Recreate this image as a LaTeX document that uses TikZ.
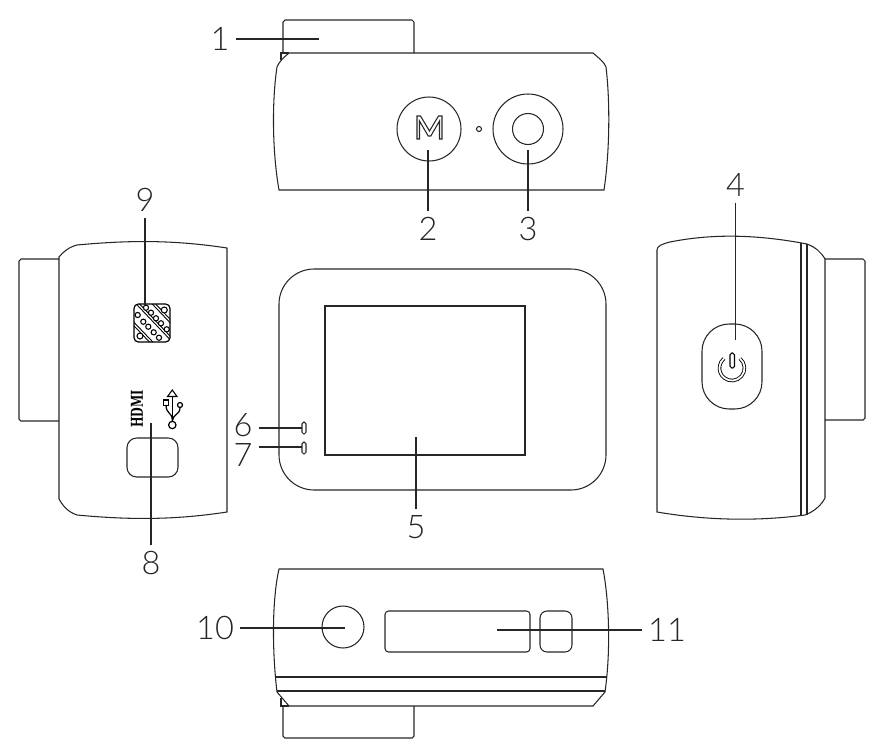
\documentclass[tikz,border=0pt]{standalone}
\usepackage{fontspec}
\setmainfont{Lato Light}
\newfontfamily\hdmifont{DejaVu Serif}[BoldFont=* Bold]
\tikzset{
    outline/.style={line width=0.6pt, draw=black!85},
    leader/.style={line width=0.6pt, draw=black!85},
    numlabel/.style={font=\fontsize{18.5}{18.5}\selectfont, text=black!85, inner sep=0pt, outer sep=3.5pt},
    grille/.style={line width=0.6pt, double, double distance=0.7pt, draw=black},
}

\begin{document}
\begin{tikzpicture}[x=0.02cm, y=0.02cm, yscale=-1]
    \useasboundingbox (0,0) rectangle (876,751);

    % Define the positions of the leader ends
    \coordinate (tip1) at (319,39);
    \coordinate (tip2) at (428,150);
    \coordinate (tip3) at (528,150);
    \coordinate (tip4) at (735.5,340);
    \coordinate (tip5) at (416,437);
    \coordinate (tip6) at (302,428);
    \coordinate (tip7) at (302,447);
    \coordinate (tip8) at (151,423);
    \coordinate (tip9) at (145,305);
    \coordinate (tip10) at (345,628);
    \coordinate (tip11) at (497,630);

    % Top view
    \draw[outline] (283,53) -- (283,22) -- (285,20) -- (412,20) -- (414,22) -- (414,53);
    \draw[outline] (281,60) -- (281,53) -- (289,53);
    \draw[outline] (289,53) -- (593,53) .. controls (600,59) and (604,62) .. (606,67)
        .. controls (610,100) and (610,150) .. (604,190) -- (279,190)
        .. controls (272,150) and (272,100) .. (277,67) .. controls (279,62) and (283,58) .. (289,53) -- cycle;
    \draw[outline] (429,129) circle (32);
    \draw[outline, line join=miter] (417,139) -- (417,116) -- (420.5,116) -- (429.5,131) -- (438.5,116) -- (442,116)
        -- (442,139) -- (439.5,139) -- (439.5,121) -- (430.8,136) -- (428.2,136) -- (419.5,121) -- (419.5,139) -- cycle;
    \draw[outline] (479,129) circle (2.5);
    \draw[outline] (528,129) circle (35);
    \draw[outline] (528,129) circle (15.5);

    % Left view
    \draw[outline] (59,259) -- (21,259) -- (19,261) -- (19,419) -- (21,421) -- (59,421);
    \draw[outline] (77,245) .. controls (130,240) and (175,240) .. (227,248) -- (227,512)
        .. controls (175,520) and (130,520) .. (77,515) .. controls (68,512) and (63,506) .. (59,499)
        -- (59,257) .. controls (63,252) and (69,247) .. (77,245) -- cycle;
    % Speaker grille
    \begin{scope}
        \clip[rounded corners=2.5pt] (134,304) rectangle (170,342);
        \draw[grille] (153,303) -- (172,323);
        \draw[grille] (136,302) -- (174,342);
        \draw[grille] (132,322) -- (154,345);
        \draw[line width=0.6pt, fill=white] (146,307.7) circle (2.6) (151,312.7) circle (2.6)
            (156,318.3) circle (2.6) (161,323.3) circle (2.6) (166.7,329.3) circle (2.6)
            (137.7,315) circle (2.6) (143.3,321.7) circle (2.6) (148.3,326.7) circle (2.6)
            (153.7,332.3) circle (2.6) (159,337.7) circle (2.6)
            (164.3,310) circle (3) (140,336) circle (3);
    \end{scope}
    \draw[line width=0.7pt, rounded corners=2.5pt] (134,304) rectangle (170,342);
    % Port and its marks
    \node[rotate=90, inner sep=0pt] (hdmiText) at (137,409)
        {\scalebox{.68}[1]{\hdmifont\fontsize{9.3}{9.3}\selectfont\bfseries HDMI}};
    \draw[line width=0.8pt] (172.3,421.3) -- (172.3,395);
    \draw[line width=0.6pt, fill=white] (167.5,396.5) -- (172.3,390) -- (177,396.5) -- cycle;
    \draw[line width=0.7pt] (172.3,425) circle (3.7);
    \draw[line width=0.7pt] (166,405) .. controls (166,414) and (172,412) .. (172.3,420);
    \draw[line width=0.7pt] (163.5,400) rectangle (168.5,405.5);
    \draw[line width=0.7pt] (180,407.5) .. controls (180,415) and (173,414) .. (172.3,421);
    \draw[line width=0.7pt] (180,405) circle (2.5);
    \draw[outline, rounded corners=5.5pt] (127,438) rectangle (178,477);

    % Centre view
    \draw[outline, rounded corners=20pt] (279,269) rectangle (606,490);
    \draw[outline] (325,306) rectangle (525,455);
    \draw[outline, rounded corners=1pt] (302,422) rectangle (306,434);
    \draw[outline, rounded corners=1pt] (302,442) rectangle (306,454);

    % Right view
    \draw[outline] (825,259) -- (863,259) -- (865,261) -- (865,418) -- (863,420) -- (825,420);
    \draw[outline] (657,250) .. controls (657,246) and (662,244) .. (670,242)
        .. controls (715,233) and (760,235) .. (807,244) .. controls (815,247) and (821,252) .. (825,259)
        -- (825,498) .. controls (821,506) and (813,512) .. (805,515)
        .. controls (760,521) and (710,521) .. (657,512) -- cycle;
    \draw[outline] (801,243) -- (801,516);
    \draw[outline] (807,244) -- (807,515);
    \draw[outline, rounded corners=15.5pt] (702,324) rectangle (762,409);
    \draw[line width=0.5pt, double, double distance=1pt, draw=black] (740,358.5) arc[start angle=-50, end angle=230, radius=12.5];
    \draw[line width=0.6pt, draw=black, rounded corners=1pt] (730,353) rectangle (734.5,368);

    % Bottom view
    \draw[outline] (283,706) -- (283,736) -- (285,738) -- (412,738) -- (414,736) -- (414,706);
    \draw[outline] (281,698) -- (281,706) -- (289,706);
    \draw[outline] (279,569) -- (603,569) .. controls (609,600) and (611,650) .. (605,692)
        -- (593,706) -- (289,706) -- (277,692) .. controls (272,650) and (272,600) .. (279,569) -- cycle;
    \draw[outline] (276,677) -- (607,677);
    \draw[outline] (277,691) -- (605,691);
    \draw[outline] (343,627) circle (21);
    \draw[outline, rounded corners=2pt] (385,611) rectangle (530,652);
    \draw[outline, rounded corners=4pt] (540,611) rectangle (572,652);

    % Draw the labels
    \node[numlabel] (lab1) at (220,39) {1};
    \node[numlabel] (lab2) at (428,229) {2};
    \node[numlabel] (lab3) at (528,229) {3};
    \node[numlabel] (lab4) at (735.5,185) {4};
    \node[numlabel] (lab5) at (416,527) {5};
    \node[numlabel] (lab6) at (243,425) {6};
    \node[numlabel] (lab7) at (243,455) {7};
    \node[numlabel] (lab8) at (151,563) {8};
    \node[numlabel] (lab9) at (145,200) {9};
    \node[numlabel] (lab10) at (215,628) {10};
    \node[numlabel] (lab11) at (667,630) {11};

    % Draw the leaders
    \draw[leader] (lab1) -- (tip1);
    \draw[leader] (lab2) -- (tip2);
    \draw[leader] (lab3) -- (tip3);
    \draw[leader] (lab4) -- (tip4);
    \draw[leader] (lab5) -- (tip5);
    \draw[leader] (lab6.east |- tip6) -- (tip6);
    \draw[leader] (lab7.east |- tip7) -- (tip7);
    \draw[leader] (lab8) -- (tip8);
    \draw[leader] (lab9) -- (tip9);
    \draw[leader] (lab10) -- (tip10);
    \draw[leader] (lab11) -- (tip11);
\end{tikzpicture}
\end{document}
